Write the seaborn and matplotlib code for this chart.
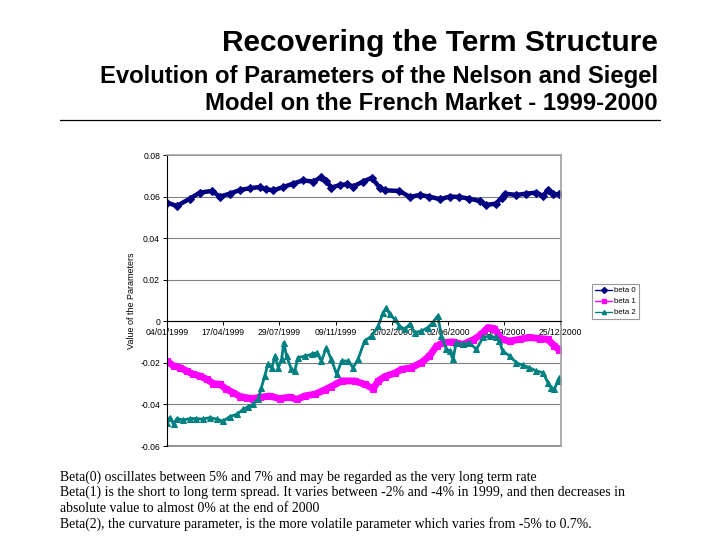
import matplotlib
matplotlib.use("Agg")
import matplotlib.pyplot as plt
from matplotlib.lines import Line2D
from matplotlib.ticker import FuncFormatter
import pandas as pd
import seaborn as sns

# days counted from 04/01/1999
beta0_days = [0, 18, 42, 60, 82, 97, 115, 134, 152, 170, 182, 195, 213, 231, 249,
              268, 283, 292, 301, 317, 329, 341, 359, 375, 390, 399, 426, 445, 463,
              481, 500, 518, 536, 554, 573, 585, 603, 613, 619, 640, 658, 677, 689,
              698, 707, 719]
beta0_vals = [0.0571, 0.0555, 0.0590, 0.0619, 0.0627, 0.0600, 0.0614, 0.0632, 0.0640,
              0.0646, 0.0635, 0.0630, 0.0646, 0.0662, 0.0678, 0.0672, 0.0694, 0.0675,
              0.0643, 0.0656, 0.0659, 0.0648, 0.0672, 0.0690, 0.0643, 0.0630, 0.0627,
              0.0598, 0.0608, 0.0600, 0.0587, 0.0600, 0.0598, 0.0590, 0.0579, 0.0560,
              0.0566, 0.0595, 0.0614, 0.0608, 0.0614, 0.0619, 0.0603, 0.0630, 0.0614,
              0.0610]

beta1_days = [0, 12, 24, 36, 48, 60, 73, 85, 97, 109, 121, 134, 146, 158, 170, 188,
              207, 225, 238, 253, 271, 289, 301, 320, 344, 362, 378, 387, 399, 417,
              430, 448, 466, 481, 494, 506, 524, 542, 561, 576, 588, 600, 613, 628,
              646, 664, 683, 698, 710, 719]
beta1_vals = [-0.0191, -0.0215, -0.0223, -0.0239, -0.0255, -0.0263, -0.0279, -0.0300,
              -0.0303, -0.0327, -0.0343, -0.0362, -0.0368, -0.0372, -0.0366, -0.0360,
              -0.0372, -0.0365, -0.0376, -0.0359, -0.0351, -0.0330, -0.0314, -0.0287,
              -0.0287, -0.0303, -0.0324, -0.0287, -0.0266, -0.0250, -0.0231, -0.0223,
              -0.0199, -0.0167, -0.0119, -0.0103, -0.0099, -0.0111, -0.0090, -0.0063,
              -0.0030, -0.0035, -0.0087, -0.0095, -0.0087, -0.0078, -0.0083, -0.0087,
              -0.0119, -0.0138]

beta2_days = [0, 5, 12, 18, 30, 42, 54, 66, 79, 91, 103, 115, 128, 140, 149, 158,
              167, 173, 179, 185, 192, 198, 204, 210, 214, 219, 228, 234, 240, 253,
              265, 274, 283, 292, 301, 311, 320, 332, 341, 350, 362, 375, 387, 396,
              402, 408, 417, 426, 436, 445, 454, 466, 478, 487, 496, 503, 512, 518,
              524, 530, 542, 554, 567, 579, 591, 603, 609, 615, 628, 640, 652, 664,
              677, 689, 698, 704, 710, 716, 719]
beta2_vals = [-0.0487, -0.0463, -0.0495, -0.0468, -0.0475, -0.0468, -0.0468, -0.0471,
              -0.0463, -0.0471, -0.0480, -0.0459, -0.0447, -0.0423, -0.0410, -0.0399,
              -0.0375, -0.0319, -0.0263, -0.0207, -0.0223, -0.0167, -0.0223, -0.0183,
              -0.0103, -0.0167, -0.0231, -0.0239, -0.0175, -0.0167, -0.0159, -0.0151,
              -0.0191, -0.0127, -0.0183, -0.0255, -0.0191, -0.0191, -0.0223, -0.0183,
              -0.0095, -0.0071, -0.0023, 0.0042, 0.0066, 0.0034, 0.0010, -0.0023,
              -0.0038, -0.0014, -0.0054, -0.0047, -0.0030, -0.0006, 0.0026, -0.0071,
              -0.0135, -0.0143, -0.0183, -0.0103, -0.0111, -0.0103, -0.0135, -0.0078,
              -0.0071, -0.0078, -0.0095, -0.0143, -0.0167, -0.0199, -0.0212, -0.0223,
              -0.0239, -0.0247, -0.0295, -0.0319, -0.0327, -0.0287, -0.0271]

tick_days = [0, 103, 206, 309, 412, 515, 618, 721]
tick_labels = ["04/01/1999", "17/04/1999", "29/07/1999", "09/11/1999",
               "20/02/2000", "02/06/2000", "13/09/2000", "25/12/2000"]
y_ticks = [-0.06, -0.04, -0.02, 0, 0.02, 0.04, 0.06, 0.08]

series_names = ["beta 0", "beta 1", "beta 2"]
series_colors = ["#000080", "#FF00FF", "#008080"]
series_markers = ["D", "s", "^"]

notes = [
    "Beta(0) oscillates between 5% and 7% and may be regarded as the very long term rate",
    "Beta(1) is the short to long term spread. It varies between -2% and -4% in 1999, and then decreases in",
    "absolute value to almost 0% at the end of 2000",
    "Beta(2), the curvature parameter, is the more volatile parameter which varies from -5% to 0.7%.",
]

sns.set_style("white")
plt.rcParams["font.family"] = ["Liberation Sans", "DejaVu Sans"]
plt.rcParams["text.color"] = "black"
plt.rcParams["axes.labelcolor"] = "black"

fig = plt.figure(figsize=(7.2, 5.4), dpi=100)
ax = fig.add_axes([167 / 720, 1 - 446 / 540, 394 / 720, 291 / 540])

frames = [
    pd.DataFrame({"day": beta0_days, "value": beta0_vals}),
    pd.DataFrame({"day": beta1_days, "value": beta1_vals}),
    pd.DataFrame({"day": beta2_days, "value": beta2_vals}),
]
line_widths = [3.2, 5.0, 2.0]
marker_sizes = [4, 5, 4.5]
for df, name, col, mk, lw, ms in zip(frames, series_names, series_colors,
                                      series_markers, line_widths, marker_sizes):
    sns.lineplot(data=df, x="day", y="value", ax=ax, color=col, marker=mk,
                 markersize=ms, markeredgecolor=col, linewidth=lw, legend=False)

ax.set_xlim(0, 722)
ax.set_ylim(-0.06, 0.08)
ax.set_yticks(y_ticks)
ax.yaxis.set_major_formatter(
    FuncFormatter(lambda v, p: "0" if abs(v) < 1e-9 else f"{v:.2f}"))
ax.set_xticks(tick_days)
ax.set_xticklabels(tick_labels)
ax.grid(axis="y", color="#808080", linewidth=0.8)
ax.axhline(-0.06, color="#808080", linewidth=1.2, clip_on=False, zorder=0)
ax.set_axisbelow(True)

ax.spines["bottom"].set_position(("data", 0))
ax.spines["bottom"].set_color("black")
ax.spines["bottom"].set_linewidth(0.8)
ax.spines["left"].set_color("black")
ax.spines["left"].set_linewidth(0.8)
for s in ["top", "right"]:
    ax.spines[s].set_color("#a0a0a0")
    ax.spines[s].set_linewidth(1.2)

ax.tick_params(axis="both", labelsize=6.2, length=3, width=0.7, direction="out",
               colors="black", pad=2)
ax.tick_params(axis="y", left=True)
ax.tick_params(axis="x", bottom=True)
ax.set_xlabel("")
ax.set_ylabel("Value of the Parameters", fontsize=6.5, labelpad=3)

handles = [Line2D([0], [0], color=c, marker=m, markersize=3, linewidth=1)
           for c, m in zip(series_colors, series_markers)]
leg = fig.legend(handles, series_names, loc="upper left",
                 bbox_to_anchor=(588 / 720, 1 - 280 / 540), fontsize=5.6,
                 frameon=True, fancybox=False, handlelength=2.2,
                 handletextpad=0.3, borderpad=0.4, labelspacing=0.45)
leg.get_frame().set_edgecolor("#808080")
leg.get_frame().set_linewidth(0.8)

# slide titles
fig.text(658 / 720, 1 - 43 / 540, "Recovering the Term Structure", ha="right",
         va="center", fontsize=21.5, fontweight="bold")
fig.text(658 / 720, 1 - 77 / 540, "Evolution of Parameters of the Nelson and Siegel",
         ha="right", va="center", fontsize=17.2, fontweight="bold")
fig.text(658 / 720, 1 - 103 / 540, "Model on the French Market - 1999-2000",
         ha="right", va="center", fontsize=17.2, fontweight="bold")
fig.add_artist(Line2D([60 / 720, 660 / 720], [1 - 120 / 540, 1 - 120 / 540],
                      color="black", linewidth=0.9, transform=fig.transFigure))

for i, line in enumerate(notes):
    fig.text(60 / 720, 1 - (477 + 15.6 * i) / 540, line, ha="left", va="center",
             fontsize=9.9, family=["Liberation Serif", "DejaVu Serif"])

fig.savefig("out.png", dpi=100)
